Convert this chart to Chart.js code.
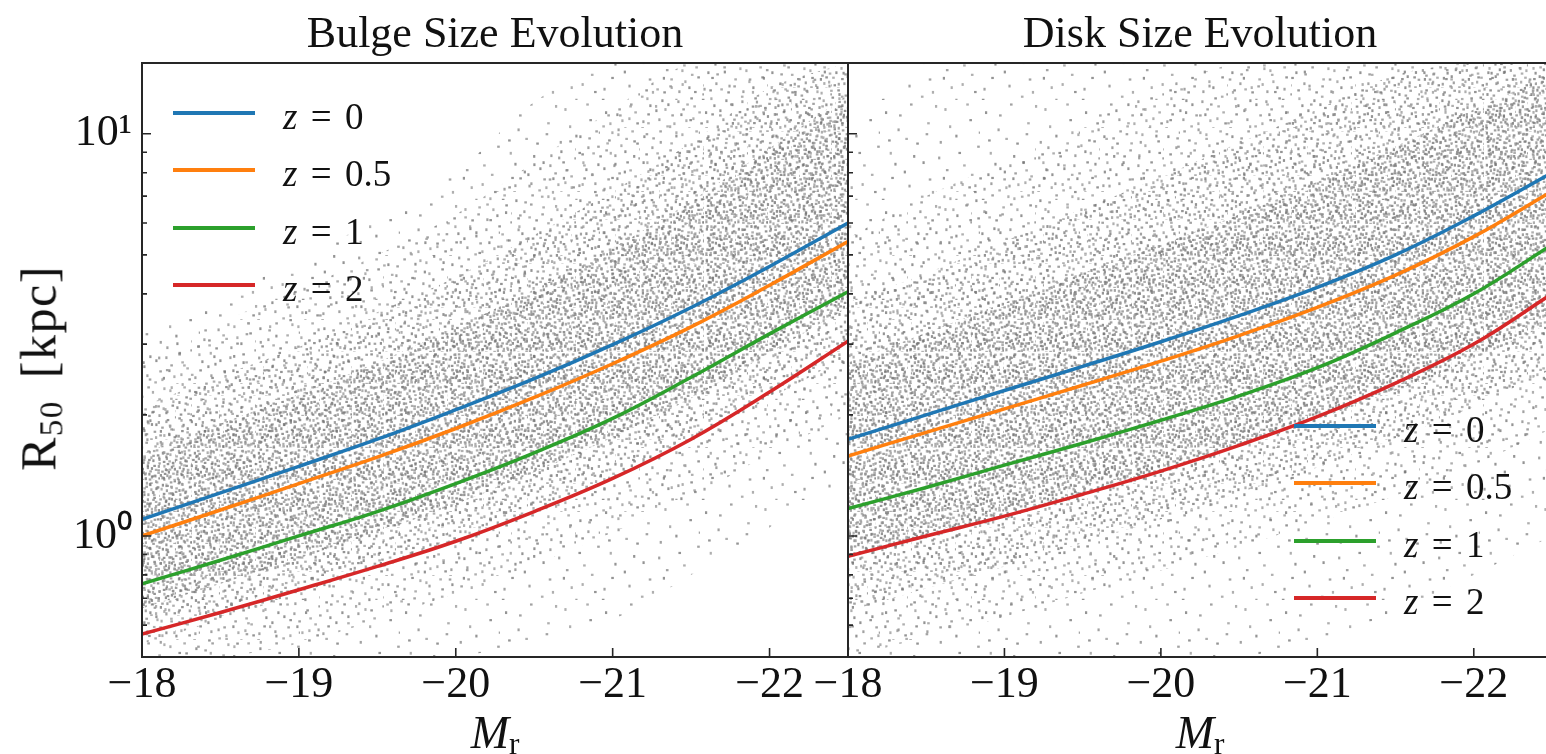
<!DOCTYPE html>
<html>
<head>
<meta charset="utf-8">
<script src="https://cdn.jsdelivr.net/npm/chart.js@4.4.1/dist/chart.umd.min.js"></script>
<style>
  html, body { margin: 0; padding: 0; background: #fff; }
  body { width: 1546px; height: 754px; overflow: hidden; position: relative; font-family: 'Liberation Serif', serif; color: #111; }
  .panel { position: absolute; top: 0; height: 754px; }
  .title { position: absolute; top: 32px; transform: translate(-50%, -50%); font-size: 44px; white-space: nowrap; }
  .xlabel { position: absolute; top: 734px; transform: translate(-50%, -50%); font-size: 46px; white-space: nowrap; }
  .xlabel sub { font-size: 0.68em; font-style: normal; vertical-align: -0.22em; }
  .ylabel { position: absolute; left: 40px; top: 368px; transform: translate(-50%, -50%) rotate(-90deg); font-size: 50px; letter-spacing: 1.5px; word-spacing: 8px; white-space: nowrap; }
  .ylabel sub { font-size: 0.66em; vertical-align: -0.22em; }
  .legend { position: absolute; }
  .legend .row { position: absolute; left: 0; height: 40px; width: 260px; }
  .legend .swatch { position: absolute; left: 0; top: 18px; width: 82px; height: 4px; }
  .legend .txt { position: absolute; top: 0; line-height: 40px; font-size: 37px; white-space: nowrap; }
  .legend .txt i { font-style: italic; }
  .legend .eq { margin: 0 0.36em; }
</style>
</head>
<body>
<div class="panel" style="left:0;width:848px"><canvas id="bulgeChart"></canvas></div>
<div class="panel" style="left:780px;width:780px"><canvas id="diskChart"></canvas></div>

<div class="title" style="left:495px">Bulge Size Evolution</div>
<div class="title" style="left:1200px">Disk Size Evolution</div>
<div class="ylabel">R<sub>50</sub> [kpc]</div>
<div class="xlabel" style="left:495px"><i>M</i><sub>r</sub></div>
<div class="xlabel" style="left:1200px"><i>M</i><sub>r</sub></div>
<div class="legend" id="bulgeLegend" style="left:173px;top:113px"></div>
<div class="legend" id="diskLegend" style="left:1294px;top:426px"></div>

<script>
// absolute magnitude grid the curves are sampled on
const mags = [-18, -18.5, -19, -19.5, -20, -20.5, -21, -21.5, -22, -22.5];
const xTicks = [-18, -19, -20, -21, -22];
const yMajor = [1, 10];
const yMinor = [0.6, 0.7, 0.8, 0.9, 2, 3, 4, 5, 6, 7, 8, 9];

const zLabels = ['z = 0', 'z = 0.5', 'z = 1', 'z = 2'];
const zColors = ['#1f77b4', '#ff7f0e', '#2ca02c', '#d62728'];

// bulge half-light radius R50 [kpc] per redshift
const bulgeZ0  = [1.10, 1.28, 1.49, 1.74, 2.06, 2.46, 2.99, 3.70, 4.68, 6.00];
const bulgeZ05 = [1.00, 1.16, 1.35, 1.57, 1.85, 2.21, 2.68, 3.31, 4.20, 5.40];
const bulgeZ1  = [0.76, 0.87, 1.00, 1.15, 1.35, 1.61, 1.96, 2.48, 3.18, 4.05];
const bulgeZ2  = [0.57, 0.645, 0.735, 0.84, 0.97, 1.15, 1.39, 1.74, 2.28, 3.05];

// disk half-light radius R50 [kpc] per redshift
const diskZ0  = [1.74, 2.00, 2.30, 2.64, 3.04, 3.53, 4.15, 5.00, 6.25, 8.00];
const diskZ05 = [1.58, 1.81, 2.07, 2.37, 2.72, 3.15, 3.70, 4.45, 5.55, 7.20];
const diskZ1  = [1.17, 1.32, 1.50, 1.70, 1.94, 2.23, 2.62, 3.20, 4.00, 5.30];
const diskZ2  = [0.89, 1.00, 1.12, 1.27, 1.45, 1.68, 1.98, 2.40, 3.00, 4.00];

// galaxy sample cloud, bulges: upper / lower edge of each density level (sparse -> core)
const bulgeHi1 = [3.2, 4.0, 4.8, 6.2, 8.0, 12.0, 15, 15, 15, 15];
const bulgeLo1 = [0.5, 0.5, 0.5, 0.5, 0.5, 0.55, 0.62, 0.8, 1.05, 1.4];
const bulgeHi2 = [2.8, 3.4, 4.1, 5.0, 6.3, 8.5, 11.5, 15, 15, 15];
const bulgeLo2 = [0.5, 0.5, 0.54, 0.62, 0.72, 0.85, 1.02, 1.25, 1.6, 2.0];
const bulgeHi3 = [2.1, 2.5, 2.95, 3.6, 4.4, 5.6, 7.2, 9.5, 13, 15];
const bulgeLo3 = [0.54, 0.62, 0.72, 0.84, 0.98, 1.16, 1.4, 1.75, 2.2, 2.8];
const bulgeHi4 = [1.6, 1.9, 2.25, 2.7, 3.3, 4.1, 5.2, 6.8, 9.2, 12.5];
const bulgeLo4 = [0.66, 0.76, 0.88, 1.02, 1.2, 1.44, 1.76, 2.2, 2.85, 3.7];

// same for disks
const diskHi1 = [10, 15, 15, 15, 15, 15, 15, 15, 15, 15];
const diskLo1 = [0.5, 0.5, 0.5, 0.5, 0.5, 0.5, 0.55, 0.65, 0.8, 1.0];
const diskHi2 = [5.5, 7.0, 8.5, 10.5, 13, 15, 15, 15, 15, 15];
const diskLo2 = [0.5, 0.56, 0.63, 0.72, 0.82, 0.94, 1.08, 1.26, 1.5, 1.85];
const diskHi3 = [3.8, 4.5, 5.4, 6.5, 7.8, 9.5, 11.5, 14, 15, 15];
const diskLo3 = [0.65, 0.74, 0.84, 0.96, 1.1, 1.28, 1.48, 1.75, 2.1, 2.6];
const diskHi4 = [2.7, 3.2, 3.8, 4.5, 5.3, 6.3, 7.6, 9.3, 11.5, 14];
const diskLo4 = [0.88, 1.0, 1.13, 1.28, 1.46, 1.68, 1.95, 2.3, 2.75, 3.4];

// speck positions inside a 64x64 texture cell
const specks = [[3,7],[19,2],[41,5],[57,12],[11,18],[30,14],[48,22],[62,29],[6,33],[23,27],
  [37,36],[53,41],[15,45],[31,50],[45,55],[60,58],[2,56],[26,61],[9,40],[42,44],
  [35,3],[50,33],[18,54],[58,47],[27,39],[12,9],[44,16],[5,25],[38,26],[55,2],
  [21,35],[63,20],[33,58],[7,49],[48,63],[16,24],[40,49],[29,21],[52,53],[1,63]];

function speckle(size) {
  const c = document.createElement('canvas');
  c.width = size; c.height = size;
  const g = c.getContext('2d');
  specks.forEach(([sx, sy], i) => {
    const shade = i % 3 === 0 ? 118 : i % 3 === 1 ? 136 : 152;
    g.fillStyle = `rgba(${shade},${shade},${shade},0.78)`;
    const w = i % 2 ? 2.6 : 2.2, h = i % 2 ? 2.2 : 2.8;
    g.fillRect(sx * size / 64 + 0.3, sy * size / 64 + 0.3, w, h);
  });
  return g.createPattern(c, 'repeat');
}

const pts = arr => arr.map((v, i) => ({x: mags[i], y: v}));

function band(hi, lo, pattern) {
  return [
    {data: pts(hi), fill: '+1', backgroundColor: pattern, borderWidth: 0, tension: 0.3, band: true},
    {data: pts(lo), fill: false, borderWidth: 0, tension: 0.3, band: true}
  ];
}

function curves(series) {
  return series.map((s, i) => ({
    label: zLabels[i], data: pts(s), borderColor: zColors[i], borderWidth: 3.5,
    fill: false, tension: 0.4
  }));
}

// box around the plotting area plus inward-pointing tick marks
const frameTicks = {
  id: 'frameTicks',
  afterDraw(chart) {
    const {ctx, chartArea: a, scales: {x, y}} = chart;
    ctx.save();
    ctx.strokeStyle = '#262626';
    ctx.lineWidth = 2;
    ctx.strokeRect(a.left, a.top, a.right - a.left, a.bottom - a.top);
    ctx.lineWidth = 1.6;
    ctx.beginPath();
    y.ticks.forEach(t => {
      const py = y.getPixelForValue(t.value);
      const len = yMajor.includes(t.value) ? 9 : 5;
      ctx.moveTo(a.left, py);
      ctx.lineTo(a.left + len, py);
    });
    x.ticks.forEach(t => {
      const px = x.getPixelForValue(t.value);
      ctx.moveTo(px, a.bottom);
      ctx.lineTo(px, a.bottom - 9);
    });
    ctx.stroke();
    ctx.restore();
  }
};

Chart.defaults.font.family = "'Liberation Serif', serif";
Chart.defaults.color = '#111';

function panelOptions(showYLabels, yWidth, padRight) {
  return {
    responsive: true,
    maintainAspectRatio: false,
    animation: false,
    layout: {padding: {top: 63, right: padRight, bottom: 0, left: 0}, autoPadding: false},
    elements: {point: {radius: 0}},
    plugins: {
      legend: {display: false},
      tooltip: {enabled: false},
      filler: {drawTime: 'beforeDatasetsDraw'}
    },
    scales: {
      x: {
        type: 'linear', reverse: true, min: -22.5, max: -18,
        afterBuildTicks: s => { s.ticks = xTicks.map(v => ({value: v})); },
        afterFit: s => { s.height = 97; },
        grid: {display: false, drawTicks: false},
        border: {display: false},
        ticks: {autoSkip: false, maxRotation: 0, padding: 2, font: {size: 44},
          callback: v => '\u2212' + Math.abs(v)}
      },
      y: {
        type: 'logarithmic', min: 0.5, max: 15,
        afterBuildTicks: s => {
          s.ticks = yMinor.concat(yMajor).sort((a, b) => a - b).map(v => ({value: v, major: yMajor.includes(v)}));
        },
        afterFit: s => { s.width = yWidth; },
        grid: {display: false, drawTicks: false},
        border: {display: false},
        ticks: {autoSkip: false, padding: 10, font: {size: 44},
          callback: v => !showYLabels ? '' : v === 1 ? '10\u2070' : v === 10 ? '10\u00b9' : ''}
      }
    }
  };
}

// one texture per density level, finer cells = more specks
const textures = [speckle(100), speckle(64), speckle(44), speckle(32)];

function cloud(levels) {
  return levels.flatMap(([hi, lo], i) => band(hi, lo, textures[i]));
}

const bulgeChart = new Chart(document.getElementById('bulgeChart'), {
  type: 'line',
  data: {datasets: [
    ...cloud([[bulgeHi1, bulgeLo1], [bulgeHi2, bulgeLo2], [bulgeHi3, bulgeLo3], [bulgeHi4, bulgeLo4]]),
    ...curves([bulgeZ0, bulgeZ05, bulgeZ1, bulgeZ2])
  ]},
  options: panelOptions(true, 142, 0),
  plugins: [frameTicks]
});

const diskChart = new Chart(document.getElementById('diskChart'), {
  type: 'line',
  data: {datasets: [
    ...cloud([[diskHi1, diskLo1], [diskHi2, diskLo2], [diskHi3, diskLo3], [diskHi4, diskLo4]]),
    ...curves([diskZ0, diskZ05, diskZ1, diskZ2])
  ]},
  options: panelOptions(false, 68, 8),
  plugins: [frameTicks]
});

// legend rows built from the curve datasets
function buildLegend(chart, id, textLeft) {
  const box = document.getElementById(id);
  chart.data.datasets.filter(d => !d.band).forEach((d, i) => {
    const row = document.createElement('div');
    row.className = 'row';
    row.style.top = (i * 57.3 - 20) + 'px';
    const sw = document.createElement('div');
    sw.className = 'swatch';
    sw.style.background = d.borderColor;
    const txt = document.createElement('div');
    txt.className = 'txt';
    txt.style.left = textLeft + 'px';
    txt.style.top = '4px';
    const parts = d.label.split(' = ');
    txt.innerHTML = '<i>' + parts[0] + '</i><span class="eq">=</span>' + parts[1];
    row.appendChild(sw);
    row.appendChild(txt);
    box.appendChild(row);
  });
}
buildLegend(bulgeChart, 'bulgeLegend', 110);
buildLegend(diskChart, 'diskLegend', 110);
</script>
</body>
</html>
